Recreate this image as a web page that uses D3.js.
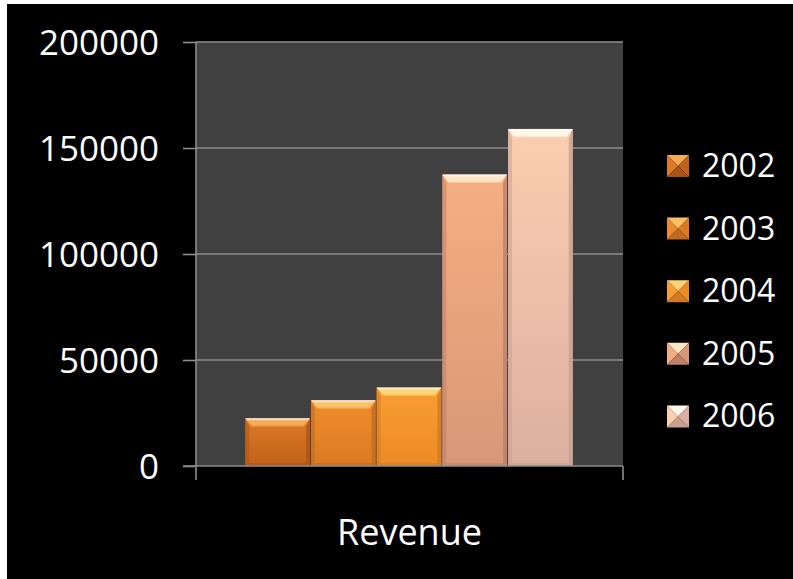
<!DOCTYPE html>
<html>
<head>
<meta charset="utf-8">
<script src="https://cdn.jsdelivr.net/npm/d3@7/dist/d3.min.js"></script>
<style>
  html, body { margin: 0; padding: 0; background: #ffffff; }
  svg { display: block; }
  text { font-family: "Open Sans", "DejaVu Sans", sans-serif; fill: #ffffff; }
</style>
</head>
<body>
<svg id="chart" width="793" height="579"></svg>
<script>
// Revenue by year
const years = ["2002", "2003", "2004", "2005", "2006"];
const revenue = [22500, 31000, 37000, 137500, 159000];
const yTicks = [0, 50000, 100000, 150000, 200000];
const categoryLabel = "Revenue";

// Per-year fill: [top of body, bottom of body, bevel highlight, edge shade]
const palette = {
  "2002": ["#dc7a26", "#c2621a", "#f6aa58", "#a8551a"],
  "2003": ["#ee8c2c", "#dc7a22", "#fcc068", "#c06a20"],
  "2004": ["#f99e32", "#ee8a26", "#ffd478", "#d07a22"],
  "2005": ["#f5ae80", "#d89878", "#ffe6c6", "#c08068"],
  "2006": ["#fbceb0", "#dcb0a0", "#fff6ea", "#c8a090"]
};

const svg = d3.select("#chart");
const W = 793, H = 579;

// black canvas with a thin white margin on the left and top
svg.append("rect").attr("x", 7).attr("y", 4).attr("width", W - 7).attr("height", H - 4).attr("fill", "#000");

const plot = { left: 196, right: 623, top: 42, bottom: 466 };

const y = d3.scaleLinear().domain([0, 200000]).range([plot.bottom, plot.top]);
const x = d3.scaleBand().domain(years).range([plot.left, plot.right]).paddingInner(0).paddingOuter(0.75);

// plot area
svg.append("rect")
  .attr("x", plot.left).attr("y", plot.top)
  .attr("width", plot.right - plot.left).attr("height", plot.bottom - plot.top)
  .attr("fill", "#404040");

// gridlines
svg.append("g")
  .selectAll("line").data(yTicks.filter(d => d > 0)).join("line")
  .attr("x1", plot.left).attr("x2", plot.right)
  .attr("y1", d => y(d)).attr("y2", d => y(d))
  .attr("stroke", "#8c8c8c").attr("stroke-width", 1.6);

// gradients
const defs = svg.append("defs");
years.forEach(yr => {
  const c = palette[yr];
  const g = defs.append("linearGradient").attr("id", "body" + yr)
    .attr("x1", 0).attr("y1", 0).attr("x2", 0).attr("y2", 1);
  g.append("stop").attr("offset", "0%").attr("stop-color", c[0]);
  g.append("stop").attr("offset", "100%").attr("stop-color", c[1]);
  const t = defs.append("linearGradient").attr("id", "bevel" + yr)
    .attr("x1", 0).attr("y1", 0).attr("x2", 0).attr("y2", 1);
  t.append("stop").attr("offset", "0%").attr("stop-color", "#fff").attr("stop-opacity", 0.95);
  t.append("stop").attr("offset", "30%").attr("stop-color", c[2]);
  t.append("stop").attr("offset", "75%").attr("stop-color", c[2]);
  t.append("stop").attr("offset", "100%").attr("stop-color", c[0]);
});

// bars with bevelled edges
const bw = x.bandwidth() - 1;
const b = 9;
const bars = svg.append("g").selectAll("g").data(years.map((yr, i) => ({ yr, v: revenue[i] }))).join("g");
bars.each(function(d) {
  const g = d3.select(this);
  const x0 = x(d.yr), x1 = x0 + bw, y0 = y(d.v), y1 = y(0);
  const c = palette[d.yr];
  g.append("rect").attr("x", x0).attr("y", y0).attr("width", bw).attr("height", y1 - y0)
    .attr("fill", `url(#body${d.yr})`);
  // left edge
  g.append("polygon").attr("points", [[x0, y0], [x0 + 4, y0 + b], [x0 + 4, y1 - 3], [x0, y1]].join(" "))
    .attr("fill", c[3]).attr("opacity", 0.55);
  // right edge
  g.append("polygon").attr("points", [[x1, y0], [x1 - 4, y0 + b], [x1 - 4, y1 - 3], [x1, y1]].join(" "))
    .attr("fill", c[3]).attr("opacity", 0.8);
  // bottom shade
  g.append("polygon").attr("points", [[x0, y1], [x0 + 4, y1 - 3], [x1 - 4, y1 - 3], [x1, y1]].join(" "))
    .attr("fill", c[3]).attr("opacity", 0.6);
  // top bevel
  g.append("polygon").attr("points", [[x0, y0], [x1, y0], [x1 - 7, y0 + b], [x0 + 7, y0 + b]].join(" "))
    .attr("fill", `url(#bevel${d.yr})`);
});

// value axis
svg.append("line").attr("x1", plot.left).attr("x2", plot.left).attr("y1", plot.top).attr("y2", plot.bottom + 14)
  .attr("stroke", "#8c8c8c").attr("stroke-width", 1.6);
svg.append("line").attr("x1", plot.left - 13).attr("x2", plot.right).attr("y1", plot.bottom).attr("y2", plot.bottom)
  .attr("stroke", "#8c8c8c").attr("stroke-width", 1.6);
svg.append("line").attr("x1", plot.right).attr("x2", plot.right).attr("y1", plot.bottom).attr("y2", plot.bottom + 14)
  .attr("stroke", "#8c8c8c").attr("stroke-width", 1.6);

const yAxis = d3.axisLeft(y).tickValues(yTicks).tickSize(13).tickPadding(24).tickFormat(d3.format("d"));
const ya = svg.append("g").attr("transform", `translate(${plot.left},0)`).call(yAxis);
ya.select(".domain").remove();
ya.selectAll(".tick line").attr("stroke", "#8c8c8c").attr("stroke-width", 1.6);
ya.selectAll(".tick text").attr("font-size", 35).attr("fill", "#fff")
  .attr("font-family", "'Open Sans', sans-serif").attr("dy", "0.36em");

// category label
svg.append("text").attr("x", (plot.left + plot.right) / 2).attr("y", 545)
  .attr("text-anchor", "middle").attr("font-size", 36).text(categoryLabel);

// legend
const legend = svg.append("g").selectAll("g").data(years).join("g")
  .attr("transform", (d, i) => `translate(667, ${166 + i * 62.6})`);
legend.each(function(yr) {
  const g = d3.select(this);
  const c = palette[yr];
  const s = 22, h = s / 2;
  // pyramid-shaded swatch
  g.append("polygon").attr("points", [[0, -h], [s, -h], [h, 0]].join(" ")).attr("fill", c[2]);
  g.append("polygon").attr("points", [[0, -h], [h, 0], [0, h]].join(" ")).attr("fill", c[0]);
  g.append("polygon").attr("points", [[s, -h], [s, h], [h, 0]].join(" ")).attr("fill", c[1]);
  g.append("polygon").attr("points", [[0, h], [h, 0], [s, h]].join(" ")).attr("fill", c[3]);
  g.append("text").attr("x", 35).attr("y", 11).attr("font-size", 32).text(yr);
});
</script>
</body>
</html>
